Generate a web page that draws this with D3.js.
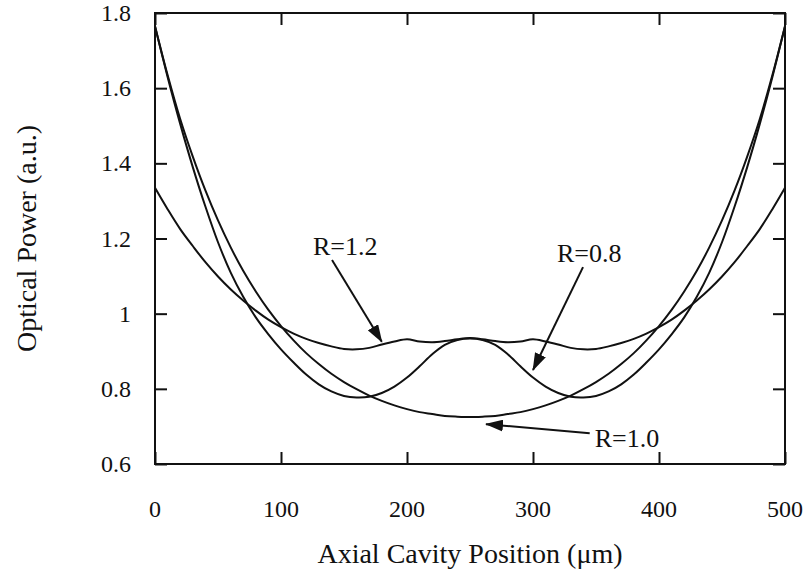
<!DOCTYPE html>
<html>
<head>
<meta charset="utf-8">
<script src="https://cdn.jsdelivr.net/npm/d3@7"></script>
<style>
  body { margin: 0; background: #fff; }
  svg { display: block; }
</style>
</head>
<body>
<svg id="chart" width="808" height="581"></svg>
<script>
// axial position (um)
let positions = [0, 10, 20, 30, 40, 50, 60, 70, 80, 90, 100, 110, 120, 130, 140, 150, 160, 170, 180, 190, 200,
  210, 220, 230, 240, 250, 260, 270, 280, 290, 300, 310, 320, 330, 340, 350, 360, 370, 380, 390, 400,
  410, 420, 430, 440, 450, 460, 470, 480, 490, 500];

// optical power
let powerR12 = [1.335, 1.278, 1.225, 1.180, 1.137, 1.099, 1.065, 1.035, 1.008, 0.984, 0.964, 0.947, 0.933, 0.922, 0.913, 0.906, 0.905, 0.909, 0.918, 0.926, 0.932,
  0.926, 0.924, 0.927, 0.932, 0.935, 0.932, 0.927, 0.924, 0.926, 0.932, 0.926, 0.918, 0.909, 0.905, 0.906, 0.913, 0.922, 0.933, 0.947, 0.964,
  0.984, 1.008, 1.035, 1.065, 1.099, 1.137, 1.180, 1.225, 1.278, 1.335];

let powerR10 = [1.765, 1.635, 1.518, 1.418, 1.328, 1.248, 1.177, 1.114, 1.059, 1.010, 0.967, 0.929, 0.895, 0.866, 0.840, 0.818, 0.799, 0.782, 0.768, 0.756, 0.746,
  0.738, 0.733, 0.728, 0.726, 0.725, 0.726, 0.728, 0.733, 0.738, 0.746, 0.756, 0.768, 0.782, 0.799, 0.818, 0.840, 0.866, 0.895, 0.929, 0.967,
  1.010, 1.059, 1.114, 1.177, 1.248, 1.328, 1.418, 1.518, 1.635, 1.765];

let powerR08 = [1.765, 1.630, 1.505, 1.390, 1.285, 1.190, 1.110, 1.045, 0.990, 0.945, 0.905, 0.870, 0.838, 0.812, 0.793, 0.781, 0.777, 0.779, 0.789, 0.806, 0.830,
  0.860, 0.892, 0.917, 0.930, 0.934, 0.930, 0.917, 0.892, 0.860, 0.830, 0.806, 0.789, 0.779, 0.777, 0.781, 0.793, 0.812, 0.838, 0.870, 0.905,
  0.945, 0.990, 1.045, 1.110, 1.190, 1.285, 1.390, 1.505, 1.630, 1.765];

let xTicks = [0, 100, 200, 300, 400, 500];
let yTicks = [0.6, 0.8, 1.0, 1.2, 1.4, 1.6, 1.8];
let yTickLabels = ["0.6", "0.8", "1", "1.2", "1.4", "1.6", "1.8"];

// labels: text anchor point, arrow start, arrow tip (data units)
let labelNames = ["R=1.2", "R=0.8", "R=1.0"];
let labelPos = [[125.4, 1.156], [319, 1.137], [349, 0.645]];
let arrowFrom = [[140.5, 1.143], [339.7, 1.124], [345, 0.682]];
let arrowTo = [[180, 0.925], [300, 0.85], [262.7, 0.706]];

let plotLeft = 155, plotRight = 785, plotTop = 13, plotBottom = 464;
let serif = "'Liberation Serif', 'Times New Roman', serif";

let x = d3.scaleLinear().domain([0, 500]).range([plotLeft, plotRight]);
let y = d3.scaleLinear().domain([0.6, 1.8]).range([plotBottom, plotTop]);

let svg = d3.select("#chart");

// curves
let line = d3.line()
  .x(function (d) { return x(d[0]); })
  .y(function (d) { return y(d[1]); })
  .curve(d3.curveCatmullRom.alpha(0.5));

[powerR12, powerR10, powerR08].forEach(function (series) {
  svg.append("path")
    .datum(positions.map(function (p, i) { return [p, series[i]]; }))
    .attr("fill", "none")
    .attr("stroke", "#111")
    .attr("stroke-width", 2)
    .attr("d", line);
});

// axes, ticks pointing inward on all four sides
let tickLen = 12;
svg.append("g")
  .attr("transform", "translate(0," + plotBottom + ")")
  .call(d3.axisTop(x).tickValues(xTicks).tickSize(tickLen).tickFormat(""))
  .call(g => g.select(".domain").remove());
svg.append("g")
  .attr("transform", "translate(0," + plotTop + ")")
  .call(d3.axisBottom(x).tickValues(xTicks).tickSize(tickLen).tickFormat(""))
  .call(g => g.select(".domain").remove());
svg.append("g")
  .attr("transform", "translate(" + plotLeft + ",0)")
  .call(d3.axisRight(y).tickValues(yTicks).tickSize(tickLen).tickFormat(""))
  .call(g => g.select(".domain").remove());
svg.append("g")
  .attr("transform", "translate(" + plotRight + ",0)")
  .call(d3.axisLeft(y).tickValues(yTicks).tickSize(tickLen).tickFormat(""))
  .call(g => g.select(".domain").remove());
svg.selectAll(".tick line")
  .attr("stroke", "#111")
  .attr("stroke-width", 2);

svg.append("rect")
  .attr("x", plotLeft)
  .attr("y", plotTop)
  .attr("width", plotRight - plotLeft)
  .attr("height", plotBottom - plotTop)
  .attr("fill", "none")
  .attr("stroke", "#111")
  .attr("stroke-width", 2);

// tick labels
svg.append("g")
  .selectAll("text")
  .data(xTicks)
  .enter()
  .append("text")
  .attr("x", function (d) { return x(d); })
  .attr("y", plotBottom + 53)
  .text(function (d) { return d; })
  .style("font-family", serif)
  .style("font-size", "24px")
  .style("text-anchor", "middle")
  .style("fill", "#111");

svg.append("g")
  .selectAll("text")
  .data(yTicks)
  .enter()
  .append("text")
  .attr("x", plotLeft - 24)
  .attr("y", function (d) { return y(d) + 8; })
  .text(function (d, i) { return yTickLabels[i]; })
  .style("font-family", serif)
  .style("font-size", "24px")
  .style("text-anchor", "end")
  .style("fill", "#111");

// axis titles
svg.append("text")
  .attr("x", (plotLeft + plotRight) / 2)
  .attr("y", 563)
  .text("Axial Cavity Position (\u03BCm)")
  .style("font-family", serif)
  .style("font-size", "28px")
  .style("text-anchor", "middle")
  .style("fill", "#111");

svg.append("text")
  .attr("transform", "translate(36," + ((plotTop + plotBottom) / 2) + ") rotate(-90)")
  .text("Optical Power (a.u.)")
  .style("font-family", serif)
  .style("font-size", "28px")
  .style("text-anchor", "middle")
  .style("fill", "#111");

// annotations
svg.append("defs")
  .append("marker")
  .attr("id", "head")
  .attr("viewBox", "0 0 18 12")
  .attr("refX", 17)
  .attr("refY", 6)
  .attr("markerWidth", 18)
  .attr("markerHeight", 12)
  .attr("markerUnits", "userSpaceOnUse")
  .attr("orient", "auto")
  .append("path")
  .attr("d", "M0,0 L18,6 L0,12 Z")
  .attr("fill", "#111");

svg.append("g")
  .selectAll("line")
  .data(labelNames)
  .enter()
  .append("line")
  .attr("x1", function (d, i) { return x(arrowFrom[i][0]); })
  .attr("y1", function (d, i) { return y(arrowFrom[i][1]); })
  .attr("x2", function (d, i) { return x(arrowTo[i][0]); })
  .attr("y2", function (d, i) { return y(arrowTo[i][1]); })
  .attr("stroke", "#111")
  .attr("stroke-width", 2)
  .attr("marker-end", "url(#head)");

svg.append("g")
  .selectAll("text")
  .data(labelNames)
  .enter()
  .append("text")
  .attr("x", function (d, i) { return x(labelPos[i][0]); })
  .attr("y", function (d, i) { return y(labelPos[i][1]); })
  .text(function (d) { return d; })
  .style("font-family", serif)
  .style("font-size", "26px")
  .style("fill", "#111");
</script>
</body>
</html>
